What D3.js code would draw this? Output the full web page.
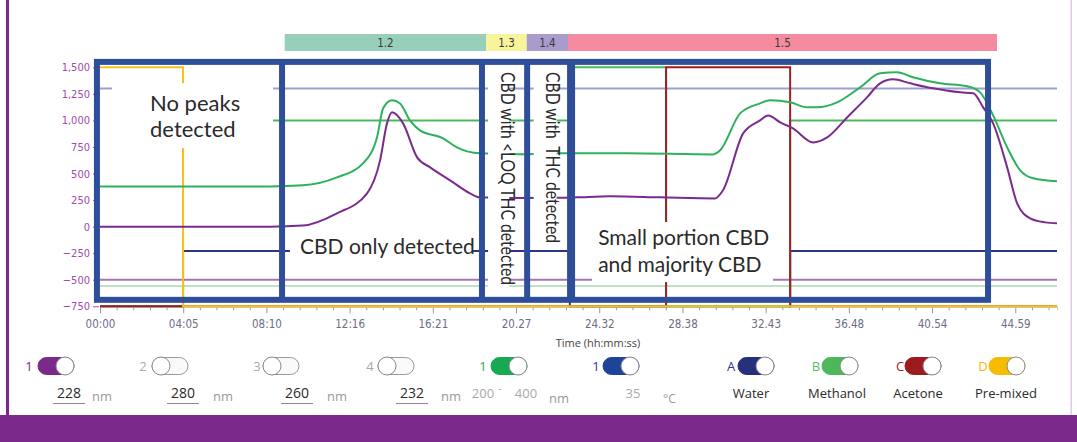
<!DOCTYPE html>
<html>
<head>
<meta charset="utf-8">
<script src="https://cdn.jsdelivr.net/npm/d3@7"></script>
<style>
  html, body { margin: 0; padding: 0; background: #fff; }
  svg { display: block; }
</style>
</head>
<body>
<svg id="chart" width="1077" height="442"></svg>
<script>
// ---- Data (run time in minutes, signal in mAU) ----
const xTickLabels = ["00:00","04:05","08:10","12:16","16:21","20.27","24.32","28.38","32.43","36.48","40.54","44.59"];
const xTickStep = 245.45 / 60;           // 04:05.45 between labelled ticks
const yTicks = [-750, -500, -250, 0, 250, 500, 750, 1000, 1250, 1500];

// UV trace at 228 nm
const trace228 = [
  [0,0],[8.36,0],[9.98,10],[11.65,125],[13.13,314],[13.77,624],[14.11,972],[14.36,1076],
  [14.90,972],[15.59,652],[16.23,558],[17.21,436],[18.19,314],[18.68,276],[20.65,270],
  [22.62,272],[23.45,276],[25.08,285],[27.54,276],[30.24,266],[30.63,342],[31.62,878],
  [32.45,1000],[32.85,1047],[33.44,982],[34.07,925],[35.06,793],[35.75,840],[36.73,1028],
  [37.71,1217],[38.35,1349],[38.99,1387],[39.83,1349],[40.96,1302],[42.29,1264],[42.93,1255],
  [43.42,1123],[43.91,972],[44.60,558],[45.09,219],[45.73,78],[46.47,40],[47.05,31]
];

// UV trace, 200-400 nm window
const trace200400 = [
  [0,379],[8.36,379],[9.98,389],[11.65,464],[12.93,596],[13.62,841],[13.92,1114],[14.36,1189],
  [14.75,1160],[15.24,1000],[15.73,906],[16.87,831],[17.55,746],[18.68,690],[20.65,682],
  [22.62,690],[23.45,690],[25.91,690],[30.14,680],[30.49,718],[31.47,1066],[32.45,1160],
  [32.94,1189],[33.93,1170],[34.76,1123],[35.26,1123],[36.24,1170],[37.37,1311],[38.35,1443],
  [39.19,1453],[39.97,1406],[41.30,1349],[42.63,1321],[43.27,1264],[43.91,1047],[44.60,746],
  [45.24,530],[45.88,455],[47.05,427]
];

// Solvent valve programme (step traces)
const solventWater    = [[0,-750],[4.083,-750],[4.083,-230],[23.1,-230],[23.1,-750],[33.93,-750],[33.93,-230],[47.05,-230]];
const solventMethanol = [[0,-750],[4.083,-750],[4.083,1000],[23.1,1000],[23.1,1500],[27.83,1500],[27.83,-750],[33.93,-750],[33.93,1000],[47.05,1000]];
const solventAcetone  = [[0,-750],[27.83,-750],[27.83,1500],[33.93,1500],[33.93,-750],[47.05,-750]];
const solventPremixed = [[0,1500],[4.083,1500],[4.083,-750],[47.05,-750]];

// Constant baselines of the other channels
const levelUpper  = 1300;
const levelPurple = -500;
const levelGreen  = -560;

// Fraction sections along the top
const sectionLabels = ["1.2", "1.3", "1.4", "1.5"];
const sectionStarts = [9.08, 18.99, 20.98, 23.01];
const sectionEnds   = [18.99, 20.98, 23.01, 44.10];

// Detection windows
const windowEdges = [-0.15, 8.95, 18.78, 21.0, 23.16, 43.66];
const windowTop = 1551, windowBottom = -689;

// Control panel
const wavelengthChannels = ["1", "2", "3", "4"];
const wavelengthValues   = ["228", "280", "260", "232"];
const solventKeys   = ["A", "B", "C", "D"];
const solventNames  = ["Water", "Methanol", "Acetone", "Pre-mixed"];

// ---- Scales ----
const svg = d3.select("#chart");
const x = d3.scaleLinear().domain([0, 47.05]).range([100, 1057]);
const y = d3.scaleLinear().domain([-750, 1500]).range([306.3, 67.3]);

// ---- Frame ----
svg.append("rect").attr("x", 6).attr("y", 0).attr("width", 3).attr("height", 415).attr("fill", "#7b2a8c");
svg.append("rect").attr("x", 0).attr("y", 415).attr("width", 1077).attr("height", 27).attr("fill", "#7b2a8c");
svg.append("rect").attr("x", 1070.5).attr("y", 0).attr("width", 1.5).attr("height", 415).attr("fill", "#dccbe6");

// ---- Section bands ----
const bandColors = ["#98cfb8", "#f8f49b", "#a99bcb", "#f48ba0"];
const bands = svg.append("g");
sectionLabels.forEach((lab, i) => {
  const x0 = x(sectionStarts[i]), x1 = x(sectionEnds[i]);
  bands.append("rect").attr("x", x0).attr("y", 34).attr("width", x1 - x0).attr("height", 17).attr("fill", bandColors[i]);
  bands.append("text").attr("x", (x0 + x1) / 2).attr("y", 46.5).attr("text-anchor", "middle")
    .attr("font-family", "Liberation Sans Narrow, DejaVu Sans Condensed, sans-serif")
    .attr("font-size", 11.5).attr("fill", "#3a3a3a").text(lab);
});

// ---- Axes ----
const majorTicks = xTickLabels.map((_, i) => i * xTickStep);
const minorTicks = d3.range(0, 47.05, xTickStep / 5).filter(t => !majorTicks.some(m => Math.abs(m - t) < 1e-6));

const xAxisG = svg.append("g").attr("transform", "translate(0,306.3)");
xAxisG.append("g").call(d3.axisBottom(x).tickValues(minorTicks).tickSize(4).tickFormat(""))
  .call(g => g.select(".domain").attr("stroke", "#cfcfcf"))
  .call(g => g.selectAll(".tick line").attr("stroke", "#9a9a9a").attr("y1", 1.5));
xAxisG.append("g").call(d3.axisBottom(x).tickValues(majorTicks).tickSize(7).tickFormat((d, i) => xTickLabels[i]))
  .call(g => g.select(".domain").remove())
  .call(g => g.selectAll(".tick line").attr("stroke", "#9a9a9a").attr("y1", 1.5))
  .call(g => g.selectAll(".tick text").attr("y", 14)
    .attr("font-family", "Liberation Sans Narrow, DejaVu Sans Condensed, sans-serif")
    .attr("font-size", 11.5).attr("fill", "#6c6c88"));

svg.append("text").attr("x", 598).attr("y", 347).attr("text-anchor", "middle")
  .attr("font-family", "Open Sans, sans-serif").attr("font-size", 11).attr("fill", "#444")
  .text("Time (hh:mm:ss)");

const yAxisG = svg.append("g").attr("transform", "translate(99,0)")
  .call(d3.axisLeft(y).tickValues(yTicks).tickSize(6).tickFormat(d3.format(",")))
  .call(g => g.select(".domain").remove())
  .call(g => g.selectAll(".tick line").attr("stroke", "#a24aa9"))
  .call(g => g.selectAll(".tick text")
    .attr("font-family", "Liberation Sans Narrow, DejaVu Sans Condensed, sans-serif")
    .attr("font-size", 11).attr("fill", "#a24aa9"));

// ---- Plot lines ----
const plot = svg.append("g");
const stepLine = d3.line().x(d => x(d[0])).y(d => y(d[1]));
const smoothLine = d3.line().x(d => x(d[0])).y(d => y(d[1])).curve(d3.curveMonotoneX);

[[levelUpper, "#9c9fd1"], [levelPurple, "#a574b7"], [levelGreen, "#bfe2c7"]].forEach(([v, c]) => {
  plot.append("line").attr("x1", x(0)).attr("x2", x(47.05)).attr("y1", y(v)).attr("y2", y(v))
    .attr("stroke", c).attr("stroke-width", 2);
});

[[solventWater, "#2b3486"], [solventMethanol, "#4cb85c"], [solventAcetone, "#a51d24"], [solventPremixed, "#f5c21b"]]
  .forEach(([data, c]) => {
    plot.append("path").datum(data).attr("d", stepLine).attr("fill", "none")
      .attr("stroke", c).attr("stroke-width", 2);
  });

plot.append("path").datum(trace200400).attr("d", smoothLine).attr("fill", "none")
  .attr("stroke", "#2db15c").attr("stroke-width", 2);
plot.append("path").datum(trace228).attr("d", smoothLine).attr("fill", "none")
  .attr("stroke", "#7a2b8d").attr("stroke-width", 2);

// ---- Annotations ----
const notes = svg.append("g");
const annoFont = "Lato, 'Open Sans', sans-serif";
function whiteBox(t0, t1, v0, v1) {
  notes.append("rect").attr("x", x(t0)).attr("y", y(v0)).attr("width", x(t1) - x(t0))
    .attr("height", y(v1) - y(v0)).attr("fill", "#fff");
}
whiteBox(0.59, 8.51, 1351, 739);
whiteBox(9.34, 18.29, -51, -409);
whiteBox(19.08, 20.12, 1490, -600);
whiteBox(21.32, 22.45, 1490, -220);
whiteBox(24.19, 33.09, 43, -522);

function hText(t, v, lines, size, lh) {
  const el = notes.append("text").attr("x", x(t)).attr("y", y(v))
    .attr("font-family", annoFont).attr("font-size", size).attr("fill", "#2a2a2a");
  lines.forEach((s, i) => el.append("tspan").attr("x", x(t)).attr("dy", i ? lh : 0).text(s));
}
hText(2.46, 1088, ["No peaks", "detected"], 22, 26);
hText(9.83, -258, ["CBD only detected"], 21, 0);
hText(24.49, -173, ["Small portion CBD", "and majority CBD"], 21, 27);

function vText(t, v, s, size, len) {
  notes.append("text").attr("transform", `translate(${x(t)},${y(v)}) rotate(90)`)
    .attr("font-family", annoFont).attr("font-size", size).attr("fill", "#2a2a2a")
    .style("white-space", "pre")
    .attr("textLength", len).attr("lengthAdjust", "spacingAndGlyphs")
    .text(s);
}
vText(19.7, 1455, "CBD with <LOQ THC detected", 18.5, 213);
vText(21.95, 1455, "CBD with  THC detected", 18.5, 171);

// Window borders
const frameColor = "#2f4e9a";
notes.append("rect").attr("x", x(windowEdges[0])).attr("y", y(windowTop))
  .attr("width", x(windowEdges[windowEdges.length - 1]) - x(windowEdges[0]))
  .attr("height", y(windowBottom) - y(windowTop))
  .attr("fill", "none").attr("stroke", frameColor).attr("stroke-width", 6);
windowEdges.slice(1, -1).forEach((t, i) => {
  notes.append("line").attr("x1", x(t)).attr("x2", x(t)).attr("y1", y(windowTop)).attr("y2", y(windowBottom))
    .attr("stroke", frameColor).attr("stroke-width", i === 3 ? 8 : 6);
});

// ---- Control panel ----
const ui = svg.append("g").attr("font-family", "'Open Sans', 'Noto Sans', sans-serif");
function toggle(x0, on, color) {
  const w = 36, h = 17, cy = 366;
  ui.append("rect").attr("x", x0).attr("y", cy - h / 2).attr("width", w).attr("height", h).attr("rx", h / 2)
    .attr("fill", on ? color : "#fbf8f9").attr("stroke", on ? color : "#9a9a9a").attr("stroke-width", 1);
  ui.append("circle").attr("cx", on ? x0 + w - 9 : x0 + 9).attr("cy", cy).attr("r", 9)
    .attr("fill", "#fff").attr("stroke", "#8a8a8a").attr("stroke-width", 1);
}
function label(xp, yp, s, size, color, anchor) {
  ui.append("text").attr("x", xp).attr("y", yp).attr("font-size", size).attr("fill", color)
    .attr("text-anchor", anchor || "middle").text(s);
}

const chanX = [29, 143, 257, 370];
const toggleX = [38, 152, 263, 378];
const numX = [69, 183, 297, 412];
const nmX = [92, 213, 327, 441];
wavelengthChannels.forEach((c, i) => {
  label(chanX[i], 371, c, 13, i === 0 ? "#7b2a8c" : "#a9a9a9");
  toggle(toggleX[i], i === 0, "#7b2a8c");
  label(numX[i], 398, wavelengthValues[i], 14, "#2a2a2a");
  ui.append("line").attr("x1", numX[i] - 16).attr("x2", numX[i] + 16).attr("y1", 403.5).attr("y2", 403.5)
    .attr("stroke", "#8a8a8a").attr("stroke-width", 1);
  label(nmX[i], 401, "nm", 13, "#9a9a9a", "start");
});

// spectrum window channel
label(483, 371, "1", 13, "#1aa955");
toggle(491, true, "#16a852");
label(483, 398, "200", 13, "#a9a9a9");
label(500, 392, "-", 11, "#a9a9a9");
label(526, 398, "400", 13, "#a9a9a9");
label(549, 403, "nm", 13, "#9a9a9a", "start");

// column temperature
label(596, 371, "1", 13, "#23409a");
toggle(603, true, "#1f4398");
label(633, 398, "35", 13, "#a9a9a9");
label(663, 403, "°C", 12, "#9a9a9a", "start");

// solvents
const keyX = [731, 816, 900, 983];
const solToggleX = [738, 822, 905, 989];
const solNameX = [751, 837, 918, 1006];
const solColors = ["#27307a", "#4cb85a", "#9b1b1e", "#f6bc00"];
const solKeyColors = ["#2d3584", "#55c060", "#a3191f", "#f5b800"];
solventKeys.forEach((k, i) => {
  label(keyX[i], 371, k, 13, solKeyColors[i]);
  toggle(solToggleX[i], true, solColors[i]);
  label(solNameX[i], 398, solventNames[i], 13, "#2a2a2a");
});
</script>
</body>
</html>
